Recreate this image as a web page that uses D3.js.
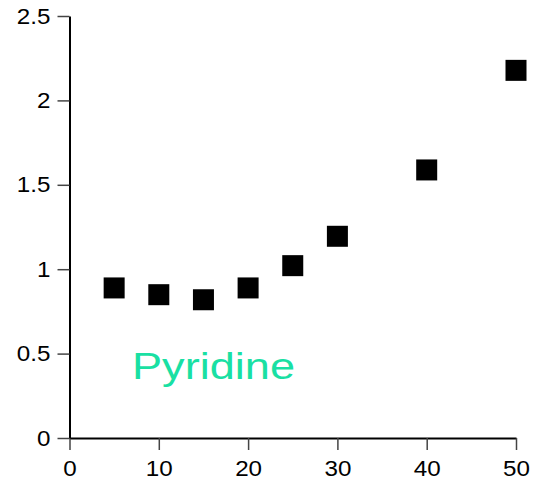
<!DOCTYPE html>
<html>
<head>
<meta charset="utf-8">
<script src="https://cdn.jsdelivr.net/npm/d3@7"></script>
<style>
  body { margin: 0; background: #fff; }
  svg { display: block; }
</style>
</head>
<body>
<svg id="chart" width="534" height="484"></svg>
<script>
const xValues = [5, 10, 15, 20, 25, 30, 40, 50];
const yValues = [0.889, 0.849, 0.819, 0.889, 1.021, 1.195, 1.588, 2.178];
const xTicks = [0, 10, 20, 30, 40, 50];
const yTicks = [0, 0.5, 1, 1.5, 2, 2.5];
const yTickLabels = ["0", "0.5", "1", "1.5", "2", "2.5"];
const label = "Pyridine";

const svg = d3.select("#chart");
const x = d3.scaleLinear().domain([0, 50]).range([69.5, 516]);
const y = d3.scaleLinear().domain([0, 2.5]).range([438, 16]);

const font = "'Liberation Sans', Arial, Helvetica, sans-serif";

const xAxis = svg.append("g").attr("transform", "translate(0,438)")
  .call(d3.axisBottom(x).tickValues(xTicks).tickFormat(d3.format("d")).tickSize(12).tickSizeOuter(0).tickPadding(10));
const yAxis = svg.append("g").attr("transform", "translate(69.5,0)")
  .call(d3.axisLeft(y).tickValues(yTicks).tickFormat((d, i) => yTickLabels[i]).tickSize(12).tickSizeOuter(0).tickPadding(7));

[xAxis, yAxis].forEach(g => {
  g.select(".domain").attr("stroke", "#000").attr("stroke-width", 2);
  g.selectAll(".tick line").attr("stroke", "#444").attr("stroke-width", 1.5);
  g.selectAll(".tick text").attr("fill", "#000").style("font-family", font).style("font-size", "22px")
    .each(function() {
      const len = this.getComputedTextLength();
      d3.select(this).attr("textLength", len * 1.1).attr("lengthAdjust", "spacingAndGlyphs");
    });
});

const s = 21;
svg.append("g").selectAll("rect").data(xValues).join("rect")
  .attr("x", (d) => x(d) - s / 2)
  .attr("y", (d, i) => y(yValues[i]) - s / 2)
  .attr("width", s).attr("height", s)
  .attr("fill", "#000");

svg.append("text")
  .attr("x", x(7)).attr("y", y(0.35))
  .attr("fill", "#19e0a3")
  .style("font-family", font).style("font-size", "36.5px")
  .attr("textLength", 163).attr("lengthAdjust", "spacingAndGlyphs")
  .text(label);
</script>
</body>
</html>
